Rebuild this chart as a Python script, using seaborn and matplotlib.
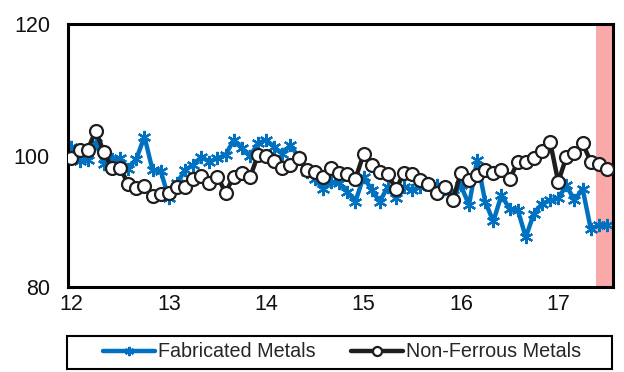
import numpy as np
import pandas as pd
import matplotlib
matplotlib.use("Agg")
import matplotlib.pyplot as plt
import seaborn as sns
from matplotlib.patches import Rectangle

# monthly index, Jan 2012 .. Jul 2017 (axis shows years as 12..17)
months = np.arange(67)

fabricated = [101.3, 99.2, 99.3, 102.0, 98.8, 99.5, 99.6, 98.0, 99.5, 102.9,
              97.8, 97.7, 93.5, 95.8, 97.8, 98.6, 99.8, 99.1, 99.6, 100.1,
              102.4, 101.1, 99.9, 101.9, 102.4, 101.3, 100.3, 101.6, 99.8, 97.5,
              96.5, 95.0, 96.0, 95.8, 94.5, 93.0, 96.8, 94.8, 93.0, 95.3,
              93.5, 95.3, 94.8, 95.3, 95.8, 95.5, 95.0, 94.0, 95.5, 92.5,
              99.3, 93.0, 90.0, 94.0, 91.9, 91.8, 87.6, 91.2, 92.7, 93.2,
              93.5, 95.5, 93.2, 95.0, 88.9, 89.4, 89.4]

non_ferrous = [99.7, 100.9, 100.9, 103.8, 100.5, 98.1, 98.1, 95.7, 95.1, 95.4,
               93.9, 94.1, 94.4, 95.3, 95.3, 96.4, 96.9, 95.8, 96.8, 94.4,
               96.8, 97.3, 96.7, 100.1, 99.9, 99.2, 98.2, 98.6, 99.6, 97.8,
               97.5, 96.7, 98.2, 97.4, 97.2, 96.5, 100.2, 98.6, 97.5, 97.2,
               94.9, 97.4, 97.2, 96.3, 95.7, 94.3, 95.3, 93.3, 97.4, 96.3,
               97.0, 97.8, 97.3, 97.8, 96.4, 99.0, 99.1, 99.7, 100.7, 102.1,
               96.0, 99.8, 100.4, 101.9, 99.1, 98.8, 97.9]

year_ticks = [12, 13, 14, 15, 16, 17]
y_ticks = [80, 100, 120]

df = pd.DataFrame({"year": 12 + months / 12,
                   "Fabricated Metals": fabricated,
                   "Non-Ferrous Metals": non_ferrous})

sns.set_style("white")
plt.rcParams["font.family"] = ["Liberation Sans", "DejaVu Sans"]

fig = plt.figure(figsize=(6.24, 3.72), dpi=100)
ax = fig.add_axes([0.109, 0.228, 0.873, 0.707])

# shaded latest-months band
ax.axvspan(17.39, 17.56, color="#f8a9a8", lw=0, zorder=0)

sns.lineplot(data=df, x="year", y="Fabricated Metals", ax=ax, color="#0070c0",
             lw=3.2, marker=(6, 2, 0), markersize=9.5, markeredgewidth=1.6,
             markeredgecolor="#0070c0", label="Fabricated Metals", zorder=2)
sns.lineplot(data=df, x="year", y="Non-Ferrous Metals", ax=ax, color="#1e1e1e",
             lw=3.2, marker="o", markersize=9.3, markerfacecolor="white",
             markeredgecolor="#1e1e1e", markeredgewidth=1.6,
             label="Non-Ferrous Metals", zorder=3)

ax.set_xlim(11.965, 17.56)
ax.set_ylim(80, 120)
ax.set_xticks(year_ticks)
ax.set_yticks(y_ticks)
ax.set_xlabel("")
ax.set_ylabel("")
ax.tick_params(axis="both", length=0, labelsize=15.5, labelcolor="#111111")
ax.tick_params(axis="y", pad=13)
ax.tick_params(axis="x", pad=5)
for s in ax.spines.values():
    s.set_color("black")
    s.set_linewidth(2.2)

handles, labels = ax.get_legend_handles_labels()
ax.get_legend().remove()
fig.legend(handles, labels, loc="center", bbox_to_anchor=(0.548, 0.054),
           ncol=2, frameon=False, fontsize=14.2, handlelength=2.64,
           handletextpad=0.15, columnspacing=1.8, markerscale=0.7)
fig.patches.append(Rectangle((0.108, 0.008), 0.873, 0.09, transform=fig.transFigure,
                             fill=False, edgecolor="black", lw=1.5))

fig.savefig("out.png", dpi=100)
